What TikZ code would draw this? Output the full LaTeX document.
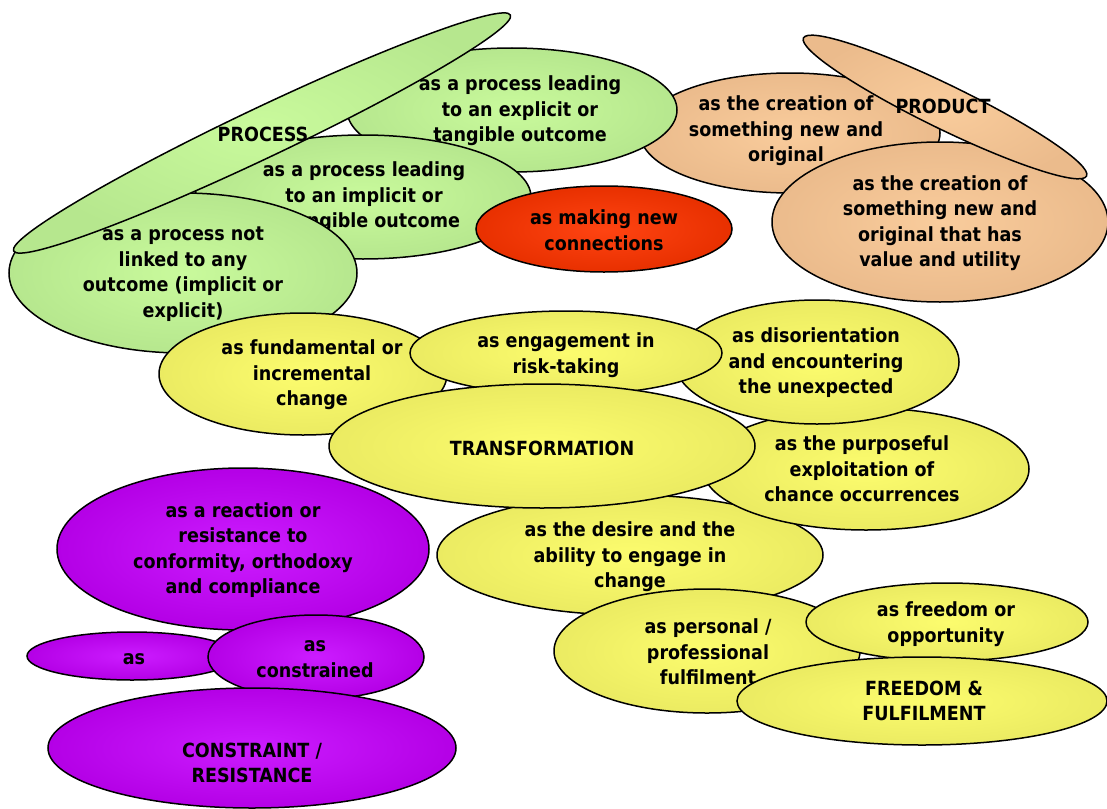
\documentclass[tikz,border=0pt]{standalone}
\usepackage{fontspec}
\setmainfont{DejaVu Sans Condensed}
\usetikzlibrary{shapes.geometric}
\definecolor{grO}{HTML}{B6E78E}
\definecolor{grI}{HTML}{C9FA9C}
\definecolor{orO}{HTML}{EBBB8C}
\definecolor{orI}{HTML}{F9CC9C}
\definecolor{rdO}{HTML}{E83000}
\definecolor{rdI}{HTML}{FF4412}
\definecolor{yeO}{HTML}{EBEB62}
\definecolor{yeI}{HTML}{FCFC6E}
\definecolor{puO}{HTML}{B400E6}
\definecolor{puI}{HTML}{CC1CFF}
\tikzset{
  bub/.style={ellipse, draw=black, line width=1.5pt, inner sep=0pt},
  gbub/.style={bub, inner color=grI, outer color=grO},
  obub/.style={bub, inner color=orI, outer color=orO},
  rbub/.style={bub, inner color=rdI, outer color=rdO},
  ybub/.style={bub, inner color=yeI, outer color=yeO},
  pbub/.style={bub, inner color=puI, outer color=puO},
  txt/.style={align=center, inner sep=0pt, yshift=-2pt, font=\bfseries\fontsize{19.5}{25.5}\selectfont}
}
\begin{document}
\begin{tikzpicture}[x=1pt,y=-1pt]
\useasboundingbox (0,0) rectangle (1107,808);
% orange first creation
\node[obub, minimum width=300pt, minimum height=120pt] (o1) at (790,133) {};
\node[txt] (o1t) at (786,129) {as the creation of\\something new and\\original};
% green
\node[gbub, minimum width=330pt, minimum height=124pt] (gexp) at (512,110) {};
\node[gbub, minimum width=336pt, minimum height=124pt] (gimp) at (363,197) {};
\node[txt] (gexpt) at (520,109) {as a process leading\\to an explicit or\\tangible outcome};
\node[txt] (gimpt) at (364,195) {as a process leading\\to an implicit or\\intangible outcome};
\node[gbub, minimum width=348pt, minimum height=160pt] (gnone) at (183,273) {};
\node[gbub, minimum width=550pt, minimum height=50pt, rotate=25.4] (proc) at (262,133) {};
\node[txt] (proct) at (263,132) {PROCESS};
\node[txt] (gnonet) at (183,272) {as a process not\\linked to any\\outcome (implicit or\\explicit)};
% orange
\node[obub, minimum width=336pt, minimum height=160pt] (o2) at (940,222) {};
\node[txt] (o2t) at (940,221) {as the creation of\\something new and\\original that has\\value and utility};
\node[obub, minimum width=315pt, minimum height=44pt, rotate=-26] (prod) at (945,107) {};
\node[txt] (prodt) at (943,104) {PRODUCT};
% red
\node[rbub, minimum width=256pt, minimum height=86pt] (red) at (604,229) {};
\node[txt] (redt) at (604,228) {as making new\\connections};
% yellow
\node[ybub, minimum width=386pt, minimum height=120pt] (ydes) at (630,555) {};
\node[txt] (ydest) at (630,555) {as the desire and the\\ability to engage in\\change};
\node[ybub, minimum width=326pt, minimum height=122pt] (ypur) at (866,469) {};
\node[txt] (ypurt) at (862,467) {as the purposeful\\exploitation of\\chance occurrences};
\node[ybub, minimum width=284pt, minimum height=124pt] (ydis) at (817,362) {};
\node[txt] (ydist) at (816,361) {as disorientation\\and encountering\\the unexpected};
\node[ybub, minimum width=288pt, minimum height=122pt] (yfun) at (303,374) {};
\node[txt] (yfunt) at (312,373) {as fundamental or\\incremental\\change};
\node[ybub, minimum width=312pt, minimum height=84pt] (yrisk) at (566,353) {};
\node[txt] (yriskt) at (566,353) {as engagement in\\risk-taking};
\node[ybub, minimum width=426pt, minimum height=124pt] (trans) at (542,446) {};
\node[txt] (transt) at (542,446) {TRANSFORMATION};
\node[ybub, minimum width=306pt, minimum height=124pt] (ypers) at (707,651) {};
\node[txt] (ypers) at (708,650) {as personal /\\professional\\fulfilment};
\node[ybub, minimum width=282pt, minimum height=78pt] (yfree) at (947,622) {};
\node[txt] (yfreet) at (946,622) {as freedom or\\opportunity};
\node[ybub, minimum width=370pt, minimum height=88pt] (ff) at (922,701) {};
\node[txt] (fft) at (924,699) {FREEDOM \&\\FULFILMENT};
% purple
\node[pbub, minimum width=372pt, minimum height=162pt] (prea) at (243,549) {};
\node[txt] (preat) at (243,548) {as a reaction or\\resistance to\\conformity, orthodoxy\\and compliance};
\node[pbub, minimum width=210pt, minimum height=48pt] (pas) at (132,656) {};
\node[txt] (past) at (134,657) {as};
\node[pbub, minimum width=216pt, minimum height=84pt] (pcon) at (316,657) {};
\node[txt] (pcont) at (315,657) {as\\constrained};
\node[pbub, minimum width=408pt, minimum height=120pt] (pcr) at (252,748) {};
\node[txt] (pcrt) at (252,761) {CONSTRAINT /\\RESISTANCE};
\end{tikzpicture}
\end{document}
